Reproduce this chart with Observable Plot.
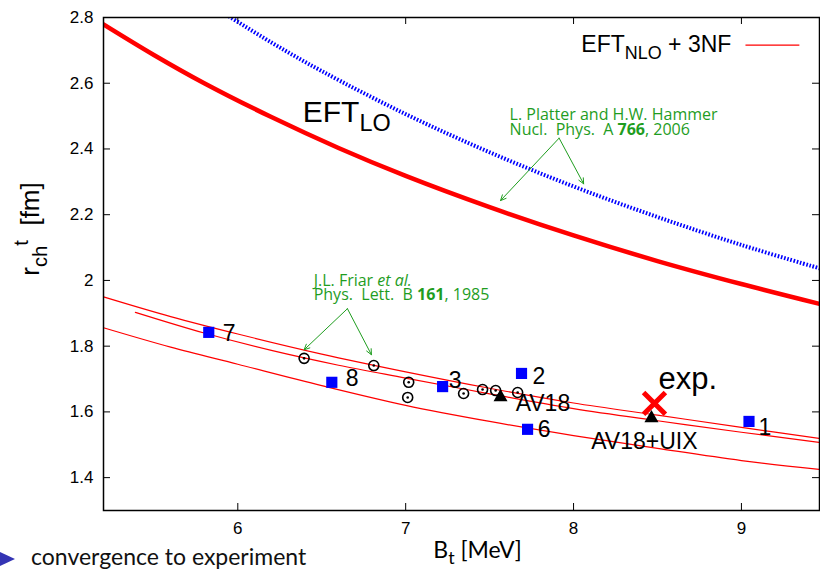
<!DOCTYPE html>
<html>
<head>
<meta charset="utf-8">
<script src="https://cdn.jsdelivr.net/npm/d3@7"></script>
<script src="https://cdn.jsdelivr.net/npm/@observablehq/plot@0.6"></script>
<style>
  body { margin: 0; background: #fff; }
  #wrap { position: relative; width: 820px; height: 577px; overflow: hidden; background: #fff; }
  #wrap svg text { white-space: pre; }
  #footer { position: absolute; left: 0; top: 545px; height: 28px; font-family: Lato, "Open Sans", sans-serif; font-size: 23px; line-height: 23px; color: #111; white-space: nowrap; }
  #footer svg { position: absolute; left: 0; top: 7px; }
  #footer span { position: absolute; left: 31px; top: 0; }
</style>
</head>
<body>
<div id="wrap"><div id="footer"><svg width="16" height="16"><polygon points="0,0 15,7 0,14" fill="#3434b4"></polygon></svg><span>convergence to experiment</span></div></div>
<script>
// ---- axis ticks ----
const xTicks = [6, 7, 8, 9];
const yTicks = [1.4, 1.6, 1.8, 2.0, 2.2, 2.4, 2.6, 2.8];

// ---- EFT LO (thick red) ----
const loB = [5.2, 5.5, 5.8, 6.2, 6.6, 7.0, 7.5, 8.0, 8.5, 9.0, 9.47];
const loR = [2.779, 2.686, 2.600, 2.497, 2.403, 2.318, 2.223, 2.137, 2.059, 1.989, 1.928];

// ---- Platter & Hammer (blue dotted) ----
const phB = [5.93, 6.2, 6.5, 7.0, 7.5, 8.0, 8.5, 9.0, 9.47];
const phR = [2.809, 2.724, 2.637, 2.506, 2.390, 2.286, 2.193, 2.108, 2.036];

// ---- EFT NLO + 3NF (thin red, three lines) ----
const nloAB = [5.2, 5.6, 6.0, 6.5, 7.0, 7.5, 8.0, 8.5, 9.0, 9.47];
const nloAR = [1.950, 1.890, 1.837, 1.776, 1.722, 1.672, 1.627, 1.590, 1.553, 1.519];
const nloBB = [5.39, 5.8, 6.2, 6.6, 7.0, 7.5, 8.0, 8.5, 9.0, 9.47];
const nloBR = [1.903, 1.840, 1.787, 1.742, 1.703, 1.655, 1.610, 1.573, 1.538, 1.507];
const nloCB = [5.2, 5.6, 6.0, 6.5, 7.0, 7.5, 8.0, 8.5, 9.0, 9.47];
const nloCR = [1.856, 1.797, 1.745, 1.680, 1.620, 1.571, 1.528, 1.489, 1.452, 1.425];

// ---- numbered model points (blue squares) ----
const modelLabels = ["1", "2", "3", "6", "7", "8"];
const modelB = [9.045, 7.690, 7.220, 7.726, 5.827, 6.560];
const modelR = [1.571, 1.717, 1.677, 1.547, 1.842, 1.690];
const modelLabelB = [9.101, 7.756, 7.256, 7.786, 5.911, 6.643];
const modelLabelR = [1.553, 1.706, 1.696, 1.547, 1.839, 1.702];

// ---- Friar et al. (circled dots) ----
const friarB = [6.395, 6.810, 7.018, 7.012, 7.345, 7.458, 7.536, 7.667];
const friarR = [1.763, 1.741, 1.690, 1.644, 1.656, 1.668, 1.665, 1.659];

// ---- AV18 / AV18+UIX (black triangles) ----
const avLabels = ["AV18", "AV18+UIX"];
const avB = [7.565, 8.464];
const avR = [1.645, 1.581];
const avLabelB = [7.655, 8.105];
const avLabelR = [1.626, 1.510];

// ---- experiment ----
const expLabels = ["exp."];
const expB = [8.482];
const expR = [1.626];
const expLabelB = [8.506];
const expLabelR = [1.699];

// ---- curve labels / legend ----
const loLabel = ["EFT_{LO}"];
const loLabelB = [6.387];
const loLabelR = [2.512];
const legendLabel = ["EFT_{NLO} + 3NF"];
const legendTextB = [8.94];
const legendR = [2.716];
const legendLineB1 = [9.024];
const legendLineB2 = [9.345];

// ---- literature annotations (two-line notes) ----
const noteTexts = [
  "L. Platter and H.W. Hammer\nNucl.  Phys.  A *{766}, 2006",
  "J.L. Friar /{et al.}\nPhys.  Lett.  B *{161}, 1985"
];
const noteB = [7.619, 6.452];
const noteR = [2.479, 1.975];
const arrowB1 = [7.914, 7.914, 6.653, 6.653];
const arrowR1 = [2.433, 2.433, 1.914, 1.914];
const arrowB2 = [7.565, 8.060, 6.395, 6.796];
const arrowR2 = [2.243, 2.294, 1.789, 1.774];

const RED = "#ff0000", BLUE = "#0000ff", GREEN = "#1f9d1f";
const SANS = "'Liberation Sans', Arial, Helvetica, sans-serif";
const CMSS = "Lato, 'Open Sans', sans-serif";
const NOTE = "'Open Sans', Lato, sans-serif";

const plot = Plot.plot({
  width: 820,
  height: 577,
  marginLeft: 103,
  marginRight: 1,
  marginTop: 17,
  marginBottom: 67,
  x: {domain: [5.2, 9.465]},
  y: {domain: [1.3, 2.8]},
  style: {fontFamily: SANS, fontSize: "17px", color: "black", background: "white", overflow: "visible"},
  marks: [
    Plot.axisX({ticks: xTicks, tickSize: 0, tickPadding: 11, label: null, tickFormat: d => String(d), fontSize: 17}),
    Plot.axisY({ticks: yTicks, tickSize: 0, tickPadding: 10, label: null, tickFormat: d => String(+d.toFixed(1)), fontSize: 17}),
    Plot.tickX(xTicks, {x: d => d, insetTop: 486, stroke: "black"}),
    Plot.tickX(xTicks, {x: d => d, insetBottom: 486, stroke: "black"}),
    Plot.tickY(yTicks, {y: d => d, insetRight: 709, stroke: "black"}),
    Plot.tickY(yTicks, {y: d => d, insetLeft: 709, stroke: "black"}),

    Plot.line(phB, {x: phB, y: phR, stroke: BLUE, strokeWidth: 4, strokeDasharray: "1.6 1.7", strokeLinecap: "butt", curve: "catmull-rom", clip: true}),
    Plot.line(loB, {x: loB, y: loR, stroke: RED, strokeWidth: 4.5, curve: "catmull-rom", clip: true}),
    Plot.line(nloAB, {x: nloAB, y: nloAR, stroke: RED, strokeWidth: 1.2, curve: "catmull-rom", clip: true}),
    Plot.line(nloBB, {x: nloBB, y: nloBR, stroke: RED, strokeWidth: 1.2, curve: "catmull-rom", clip: true}),
    Plot.line(nloCB, {x: nloCB, y: nloCR, stroke: RED, strokeWidth: 1.2, curve: "catmull-rom", clip: true}),

    Plot.arrow(arrowB1, {x1: arrowB1, y1: arrowR1, x2: arrowB2, y2: arrowR2, stroke: GREEN, strokeWidth: 1, headLength: 9, headAngle: 50}),
    Plot.text(noteTexts, {x: noteB, y: noteR, text: d => d, textAnchor: "start", lineHeight: 0.88, fill: GREEN, fontSize: 16, fontFamily: NOTE}),

    Plot.dot(friarB, {x: friarB, y: friarR, r: 5, stroke: "black", strokeWidth: 1.6, fill: "none"}),
    Plot.dot(friarB, {x: friarB, y: friarR, r: 1.3, fill: "black", stroke: "none"}),
    Plot.dot(modelB, {x: modelB, y: modelR, symbol: "square", r: 6.3, fill: BLUE, stroke: "none"}),
    Plot.dot(avB, {x: avB, y: avR, symbol: "triangle", r: 5.2, fill: "black", stroke: "none"}),
    Plot.dot(expB, {x: expB, y: expR, symbol: "times", r: 10, stroke: RED, strokeWidth: 5, strokeLinecap: "butt"}),

    Plot.text(modelLabels, {x: modelLabelB, y: modelLabelR, text: d => d, textAnchor: "start", fontSize: 23}),
    Plot.text(avLabels, {x: avLabelB, y: avLabelR, text: d => d, textAnchor: "start", fontSize: 23}),
    Plot.text(expLabels, {x: expLabelB, y: expLabelR, text: d => d, textAnchor: "start", fontSize: 31}),
    Plot.text(loLabel, {x: loLabelB, y: loLabelR, text: d => d, textAnchor: "start", fontSize: 30}),

    Plot.text(legendLabel, {x: legendTextB, y: legendR, text: d => d, textAnchor: "end", fontSize: 23}),
    Plot.link(legendLineB1, {x1: legendLineB1, x2: legendLineB2, y1: legendR, y2: legendR, stroke: RED, strokeWidth: 1.2}),

    Plot.text(["r_{ch}^{t}  [fm]"], {frameAnchor: "left", textAnchor: "middle", dx: -73, dy: -35, rotate: -90, fontSize: 26}),
    Plot.text(["B_{t} [MeV]"], {frameAnchor: "bottom", textAnchor: "middle", dx: 16, dy: 47, fontSize: 23, fontFamily: CMSS}),

    Plot.frame({stroke: "black", strokeWidth: 1.5})
  ]
});

const wrap = document.getElementById("wrap");
wrap.insertBefore(plot, wrap.firstChild);

// convert simple markup (_{sub}, ^{sup}, *{bold}, /{italic}) into tspans
function richify(el, fs) {
  const s = el.textContent;
  if (!/[_^*\/]\{/.test(s)) return;
  el.textContent = "";
  let off = 0;
  const add = (txt, kind) => {
    const t = d3.select(el).append("tspan").text(txt);
    let target = 0;
    if (kind === "_") { target = 0.3 * fs; t.attr("font-size", fs * 0.78); }
    if (kind === "^") { target = -0.42 * fs; t.attr("font-size", fs * 0.78); }
    if (kind === "*") t.attr("font-weight", "bold");
    if (kind === "/") t.attr("font-style", "italic");
    if (target !== off) { t.attr("dy", target - off); off = target; }
  };
  const re = /([_^*\/])\{([^}]*)\}/g;
  let last = 0, m;
  while ((m = re.exec(s))) {
    if (m.index > last) add(s.slice(last, m.index), "");
    add(m[2], m[1]);
    last = re.lastIndex;
  }
  if (last < s.length) add(s.slice(last), "");
}
d3.select(plot).selectAll("text").each(function () {
  const fs = parseFloat(getComputedStyle(this).fontSize) || 16;
  const lines = Array.from(this.children).filter(c => c.tagName.toLowerCase() === "tspan");
  if (lines.length) lines.forEach(l => richify(l, fs));
  else richify(this, fs);
});
</script>
</body>
</html>
